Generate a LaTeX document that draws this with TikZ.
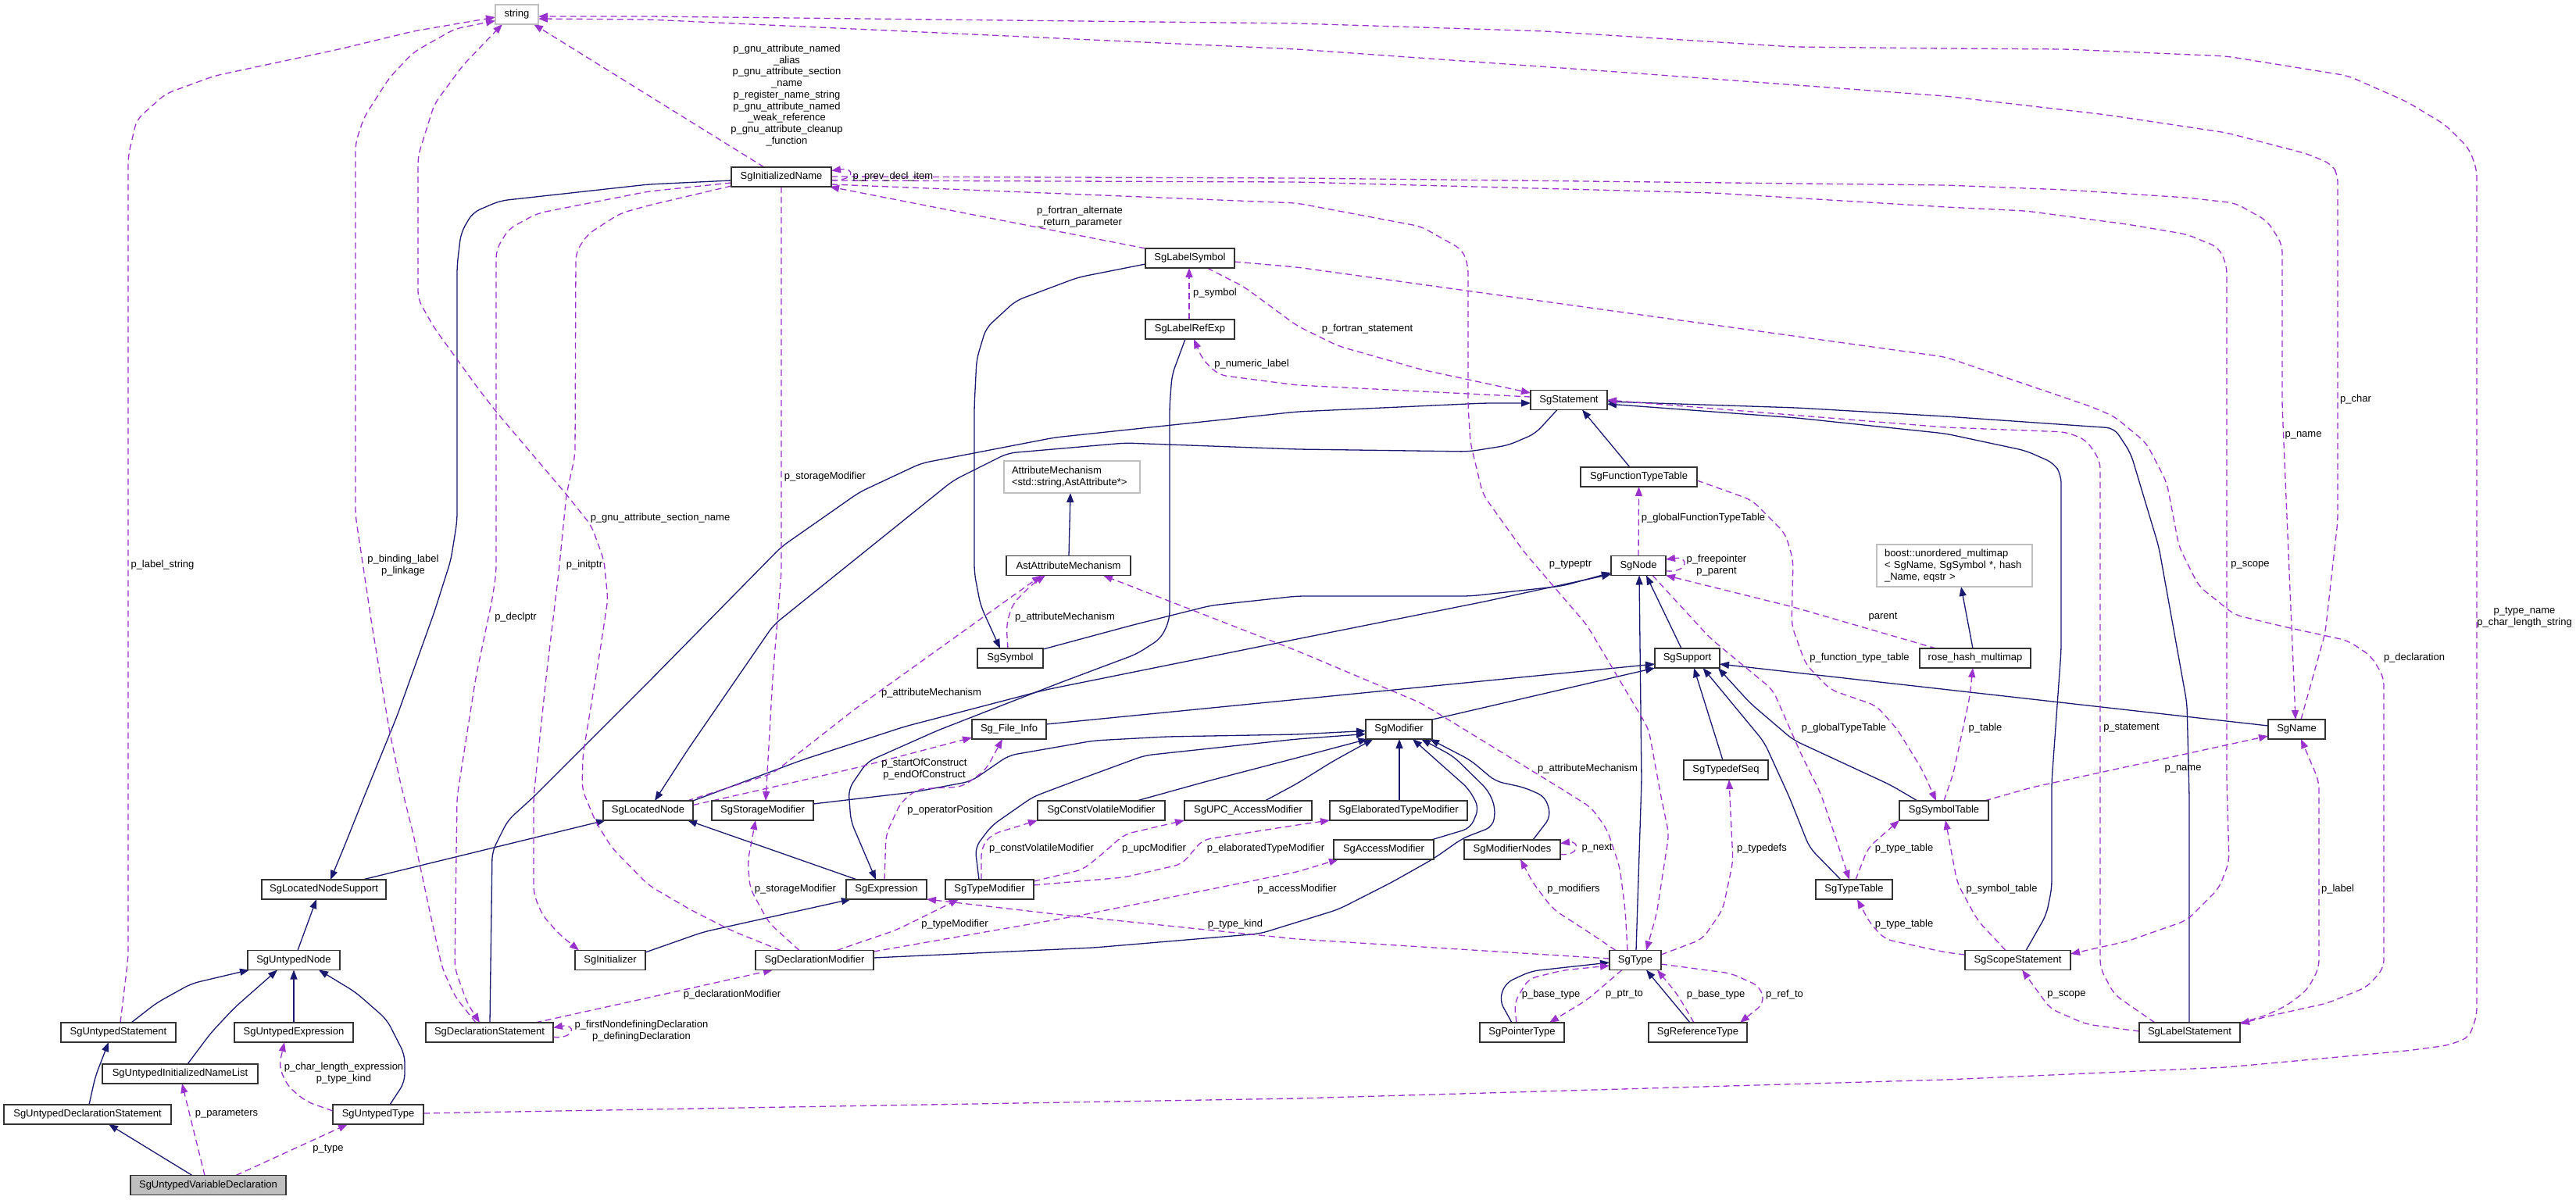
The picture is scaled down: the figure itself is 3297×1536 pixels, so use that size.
\documentclass[tikz,border=0pt]{standalone}
\usepackage{fontspec}
\setmainfont{Liberation Sans}
\usetikzlibrary{arrows.meta,calc,backgrounds}
\definecolor{inhc}{HTML}{191970}
\definecolor{depc}{HTML}{9A32CD}
\definecolor{extc}{HTML}{BFBFBF}
\begin{document}
\begin{tikzpicture}[x=1pt,y=-1pt,
 every node/.style={font=\fontsize{13}{14.75}\selectfont},
 cls/.style={draw=black!80,line width=1.3pt,fill=white,minimum height=25pt,inner sep=0pt},
 ext/.style={draw=extc,line width=1.3pt,fill=white,inner xsep=10pt,inner ysep=0pt,align=left},
 inh/.style={draw=inhc,line width=1.3pt,rounded corners=10pt,-{Triangle[length=12pt,width=9pt]}},
 dep/.style={draw=depc,line width=1.3pt,dash pattern=on 8pt off 5pt,rounded corners=10pt,-{Triangle[length=12pt,width=9pt]}},
 lbl/.style={inner sep=0pt,align=center}]
\useasboundingbox (0,0) rectangle (3297,1536);
% ---------------- nodes ----------------
\node[ext,minimum width=55pt,minimum height=25pt,inner xsep=0pt,align=center] (str) at (661.5,18.5) {string};
\node[cls,minimum width=128pt] (inm) at (1000,226.5) {SgInitializedName};
\node[cls,minimum width=114pt] (lsym) at (1523,330.5) {SgLabelSymbol};
\node[cls,minimum width=114pt] (lref) at (1523,421.5) {SgLabelRefExp};
\node[cls,minimum width=98pt] (stmt) at (2008,512) {SgStatement};
\node[ext,text width=154pt,minimum height=41pt] (attm) at (1372,610.5) {AttributeMechanism\\<std::string,AstAttribute*>};
\node[cls,minimum width=159pt] (astm) at (1367.5,724) {AstAttributeMechanism};
\node[cls,minimum width=84pt] (sym) at (1293,842.5) {SgSymbol};
\node[cls,minimum width=95pt] (finfo) at (1291.5,933.5) {Sg\_File\_Info};
\node[cls,minimum width=149pt] (ftt) at (2097.5,610.5) {SgFunctionTypeTable};
\node[cls,minimum width=70pt] (node) at (2097,724) {SgNode};
\node[ext,text width=179pt,minimum height=54pt] (boost) at (2501.5,724) {boost::unordered\_multimap\\< SgName, SgSymbol *, hash\\\_Name, eqstr >};
\node[cls,minimum width=83pt] (sup) at (2159.5,842.5) {SgSupport};
\node[cls,minimum width=142pt] (rhm) at (2528,842.5) {rose\_hash\_multimap};
\node[cls,minimum width=85pt] (mod) at (1790.5,933.5) {SgModifier};
\node[cls,minimum width=108pt] (tds) at (2209,985.5) {SgTypedefSeq};
\node[cls,minimum width=73pt] (name) at (2939.5,933.5) {SgName};
\node[cls,minimum width=115pt] (lnode) at (829.5,1037.5) {SgLocatedNode};
\node[cls,minimum width=130pt] (stor) at (976,1037.5) {SgStorageModifier};
\node[cls,minimum width=163pt] (cvm) at (1409.5,1037.5) {SgConstVolatileModifier};
\node[cls,minimum width=163pt] (upc) at (1597.5,1037.5) {SgUPC\_AccessModifier};
\node[cls,minimum width=176pt] (etm) at (1790,1037.5) {SgElaboratedTypeModifier};
\node[cls,minimum width=114pt] (symt) at (2488,1037.5) {SgSymbolTable};
\node[cls,minimum width=128pt] (accm) at (1771,1087.5) {SgAccessModifier};
\node[cls,minimum width=123pt] (mnodes) at (1935.5,1087.5) {SgModifierNodes};
\node[cls,minimum width=159pt] (lns) at (414.5,1138.5) {SgLocatedNodeSupport};
\node[cls,minimum width=103pt] (expr) at (1134.5,1138.5) {SgExpression};
\node[cls,minimum width=113pt] (tmod) at (1266.5,1138.5) {SgTypeModifier};
\node[cls,minimum width=98pt] (ttab) at (2373,1138.5) {SgTypeTable};
\node[cls,minimum width=118pt] (unode) at (376,1229) {SgUntypedNode};
\node[cls,minimum width=90pt] (init) at (781,1229) {SgInitializer};
\node[cls,minimum width=151pt] (dmod) at (1042.5,1229) {SgDeclarationModifier};
\node[cls,minimum width=66pt] (type) at (2093,1229) {SgType};
\node[cls,minimum width=135pt] (scope) at (2582.5,1229) {SgScopeStatement};
\node[cls,minimum width=147pt] (ustmt) at (151.5,1321.5) {SgUntypedStatement};
\node[cls,minimum width=152pt] (uexpr) at (376,1321.5) {SgUntypedExpression};
\node[cls,minimum width=163pt] (dstmt) at (626.5,1321.5) {SgDeclarationStatement};
\node[cls,minimum width=108pt] (ptr) at (1948,1321.5) {SgPointerType};
\node[cls,minimum width=126pt] (ref) at (2173,1321.5) {SgReferenceType};
\node[cls,minimum width=129pt] (lstmt) at (2802.5,1321.5) {SgLabelStatement};
\node[cls,minimum width=199pt] (uinl) at (230.5,1374.5) {SgUntypedInitializedNameList};
\node[cls,minimum width=214pt] (udecl) at (112,1426.5) {SgUntypedDeclarationStatement};
\node[cls,minimum width=116pt] (utype) at (484,1426.5) {SgUntypedType};
\node[cls,minimum width=199pt,fill=extc] (uvar) at (266.5,1517) {SgUntypedVariableDeclaration};
% ---------------- labels ----------------
\node[lbl] (lgnu) at (1007,122) {p\_gnu\_attribute\_named\\\_alias\\p\_gnu\_attribute\_section\\\_name\\p\_register\_name\_string\\p\_gnu\_attribute\_named\\\_weak\_reference\\p\_gnu\_attribute\_cleanup\\\_function};
\node[lbl] (l01) at (1143,226) {p\_prev\_decl\_item};
\node[lbl] (l02) at (1382,278) {p\_fortran\_alternate\\\_return\_parameter};
\node[lbl] (l03) at (1555,375) {p\_symbol};
\node[lbl] (l04) at (1602,466) {p\_numeric\_label};
\node[lbl] (l05) at (1750,421) {p\_fortran\_statement};
\node[lbl] (l06) at (3015,511) {p\_char};
\node[lbl] (l07) at (208,723) {p\_label\_string};
\node[lbl] (l08) at (516,723.5) {p\_binding\_label\\p\_linkage};
\node[lbl] (l09) at (660,790) {p\_declptr};
\node[lbl] (l10) at (748,723) {p\_initptr};
\node[lbl] (l11) at (845,663) {p\_gnu\_attribute\_section\_name};
\node[lbl] (l12) at (1056,610) {p\_storageModifier};
\node[lbl] (l13) at (1363,790) {p\_attributeMechanism};
\node[lbl] (l14) at (1192,887) {p\_attributeMechanism};
\node[lbl] (l15) at (1183,984.5) {p\_startOfConstruct\\p\_endOfConstruct};
\node[lbl] (l16) at (2180,663) {p\_globalFunctionTypeTable};
\node[lbl] (l17) at (2197,723.5) {p\_freepointer\\p\_parent};
\node[lbl] (l18) at (2010,723) {p\_typeptr};
\node[lbl] (l19) at (2410,790) {parent};
\node[lbl] (l20) at (2380,842) {p\_function\_type\_table};
\node[lbl] (l21) at (2360,932) {p\_globalTypeTable};
\node[lbl] (l22) at (2032,984) {p\_attributeMechanism};
\node[lbl] (l23) at (2948,557) {p\_name};
\node[lbl] (l24) at (2880,723) {p\_scope};
\node[lbl] (l25) at (3231,790) {p\_type\_name\\p\_char\_length\_string};
\node[lbl] (l26) at (3090,842) {p\_declaration};
\node[lbl] (l27) at (2541,932) {p\_table};
\node[lbl] (l28) at (2728,932) {p\_statement};
\node[lbl] (l29) at (2794,984) {p\_name};
\node[lbl] (l30) at (821,1319.5) {p\_firstNondefiningDeclaration\\p\_definingDeclaration};
\node[lbl] (l31) at (440,1373.5) {p\_char\_length\_expression\\p\_type\_kind};
\node[lbl] (l32) at (290,1426) {p\_parameters};
\node[lbl] (l33) at (420,1471) {p\_type};
\node[lbl] (l34) at (1216,1037) {p\_operatorPosition};
\node[lbl] (l35) at (1333,1086) {p\_constVolatileModifier};
\node[lbl] (l36) at (1477,1086) {p\_upcModifier};
\node[lbl] (l37) at (1620,1086) {p\_elaboratedTypeModifier};
\node[lbl] (l38) at (1018,1138) {p\_storageModifier};
\node[lbl] (l39) at (1660,1138) {p\_accessModifier};
\node[lbl] (l40) at (1222,1183) {p\_typeModifier};
\node[lbl] (l41) at (1581,1183) {p\_type\_kind};
\node[lbl] (l42) at (937,1273) {p\_declarationModifier};
\node[lbl] (l43) at (2044,1086) {p\_next};
\node[lbl] (l44) at (2255,1086) {p\_typedefs};
\node[lbl] (l45) at (2437,1086) {p\_type\_table};
\node[lbl] (l46) at (2014,1138) {p\_modifiers};
\node[lbl] (l47) at (2437,1183) {p\_type\_table};
\node[lbl] (l48) at (1985,1273) {p\_base\_type};
\node[lbl] (l49) at (2079,1273) {p\_ptr\_to};
\node[lbl] (l50) at (2196,1273) {p\_base\_type};
\node[lbl] (l51) at (2284,1273) {p\_ref\_to};
\node[lbl] (l52) at (2562,1138) {p\_symbol\_table};
\node[lbl] (l53) at (2992,1138) {p\_label};
\node[lbl] (l54) at (2645,1273) {p\_scope};
% ---------------- edges ----------------
\begin{scope}[on background layer]
\fill[white] (0,0) rectangle (3297,1536);
% inheritance
\draw[inh] ($(uvar)+(-20.5,-12.5)$) -- ($(udecl)+(27,12.5)$);
\draw[inh] ($(udecl)+(2,-12.5)$) -- (122,1378) -- ($(ustmt)+(-12.5,12.5)$);
\draw[inh] ($(ustmt)+(16.5,-12.5)$) -- (200,1284) -- (245,1259) -- ($(unode)+(-57,12.5)$);
\draw[inh] ($(uinl)+(9.5,-12.5)$) -- (270,1322) -- (300,1290) -- ($(unode)+(-21,12.5)$);
\draw[inh] ($(uexpr)+(0,-12.5)$) -- ($(unode)+(0,12.5)$);
\draw[inh] ($(utype)+(15,-12.5)$) -- (518,1385) -- (518,1350) -- (495,1305) -- (455,1270) -- ($(unode)+(32,12.5)$);
\draw[inh] ($(unode)+(5,-12.5)$) -- ($(lns)+(-9.5,12.5)$);
\draw[inh] ($(inm)+(-64,4.5)$) -- (830,236) -- (640,257) -- (605,272) -- (590,298) -- (585,340) -- (585,667) -- (577,717) -- (556,783) -- (508,917) -- (466,1020) -- (440,1085) -- ($(lns)+(8.5,-12.5)$);
\draw[inh] ($(lns)+(49.5,-12.5)$) -- ($(lnode)+(-54.5,12.5)$);
\draw[inh] ($(expr)+(-37.5,-12.5)$) -- ($(lnode)+(50.5,12.5)$);
\draw[inh] ($(stmt)+(-15,12.5)$) -- (1965,555) -- (1930,570) -- (1880,578) -- (1660,575) -- (1440,567) -- (1290,580) -- (1220,615) -- (1174,652) -- (990,800) -- (880,960) -- ($(lnode)+(8.5,-12.5)$);
\draw[inh] ($(dstmt)+(0.5,-12.5)$) -- (630,1090) -- (650,1050) -- (683,1020) -- (830,873) -- (1000,700) -- (1100,630) -- (1179,593) -- (1350,560) -- (1660,527) -- (1900,516) -- ($(stmt)+(-49,4)$);
\draw[inh] ($(lsym)+(-57,7.5)$) -- (1380,355) -- (1300,385) -- (1262,420) -- (1250,460) -- (1247,520) -- (1247,733) -- (1255,775) -- ($(sym)+(-13,-12.5)$);
\draw[inh] ($(lref)+(-6,12.5)$) -- (1500,480) -- (1497,520) -- (1497,793) -- (1486,817) -- (1455,837) -- (1359,873) -- (1200,935) -- (1110,975) -- (1086,1010) -- (1089,1051) -- ($(expr)+(-13.5,-12.5)$);
\draw[inh] ($(init)+(45,-10)$) -- (900,1193) -- ($(expr)+(-45.5,12.5)$);
\draw[inh] ($(sym)+(42,-11.5)$) -- (1450,800) -- (1550,775) -- (1660,763) -- (1882,763) -- (2000,750) -- ($(node)+(-35,9)$);
\draw[inh] ($(lnode)+(57.5,-12.5)$) -- (1026,973) -- (1158,930) -- (1338,883) -- (1660,818) -- (1900,770) -- ($(node)+(-35,11)$);
\draw[inh] ($(finfo)+(47.5,-6.5)$) -- ($(sup)+(-41.5,7.5)$);
\draw[inh] ($(mod)+(42.5,-12.5)$) -- ($(sup)+(-41.5,12.5)$);
\draw[inh] ($(stor)+(65,-8.5)$) -- (1169,1014) -- (1243,1000) -- (1291,967) -- (1400,948) -- (1492,943) -- (1660,940) -- ($(mod)+(-42.5,2)$);
\draw[inh] ($(tmod)+(-13.5,-12.5)$) -- (1248,1085) -- (1269,1057) -- (1322,1020) -- (1375,1000) -- (1465,967) -- (1660,946) -- ($(mod)+(-42.5,6)$);
\draw[inh] ($(cvm)+(45.5,-12.5)$) -- (1545,1000) -- (1660,970) -- ($(mod)+(-40,12.5)$);
\draw[inh] ($(upc)+(21.5,-12.5)$) -- (1660,1003) -- (1705,975) -- ($(mod)+(-33,12.5)$);
\draw[inh] ($(etm)+(1,-12.5)$) -- ($(mod)+(0.5,12.5)$);
\draw[inh] ($(accm)+(61,-12.5)$) -- (1882,1060) -- (1893,1034) -- (1880,1010) -- ($(mod)+(17.5,12.5)$);
\draw[inh] ($(dmod)+(75.5,-3)$) -- (1400,1213) -- (1613,1195) -- (1713,1164) -- (1780,1130) -- (1835,1099) -- (1872,1073) -- (1911,1058) -- (1914,1034) -- (1905,1012) -- (1860,968) -- ($(mod)+(28.5,12.5)$);
\draw[inh] ($(mnodes)+(26.5,-12.5)$) -- (1985,1045) -- (1978,1020) -- (1951,1008) -- (1914,1000) -- (1882,973) -- ($(mod)+(39.5,12.5)$);
\draw[inh] ($(sup)+(-7.5,-12.5)$) -- ($(node)+(10,12.5)$);
\draw[inh] ($(type)+(1,-12.5)$) -- (2101,1000) -- ($(node)+(1,12.5)$);
\draw[inh] ($(tds)+(-4,-12.5)$) -- ($(sup)+(8.5,12.5)$);
\draw[inh] ($(ttab)+(-17,-12.5)$) -- (2316,1085) -- (2290,1020) -- (2258,950) -- ($(sup)+(20,12.5)$);
\draw[inh] ($(symt)+(-34,-12.5)$) -- (2420,1005) -- (2295,947) -- (2240,900) -- ($(sup)+(39.5,12.5)$);
\draw[inh] ($(name)+(-36.5,-4.5)$) -- ($(sup)+(41.5,7.5)$);
\draw[inh] ($(ftt)+(-11.5,-12.5)$) -- ($(stmt)+(17,12.5)$);
\draw[inh] ($(scope)+(10.5,-12.5)$) -- (2619,1171) -- (2626,1137) -- (2626,1000) -- (2638,833) -- (2638,608) -- (2629,593) -- (2593,577) -- (2490,555) -- (2300,535) -- ($(stmt)+(49,5)$);
\draw[inh] ($(lstmt)+(-0.5,-12.5)$) -- (2802,1020) -- (2799,900) -- (2763,700) -- (2727,580) -- (2706,548) -- (2490,533) -- (2300,522) -- ($(stmt)+(49,2)$);
\draw[inh] ($(rhm)+(-3,-12.5)$) -- ($(boost)+(8.5,27)$);
\draw[inh] ($(astm)+(0.5,-12.5)$) -- ($(attm)+(-2,20.5)$);
\draw[inh] ($(ptr)+(-13,-12.5)$) -- (1919,1280) -- (1927,1258) -- (1960,1243) -- ($(type)+(-33,3)$);
\draw[inh] ($(ref)+(-10,-12.5)$) -- ($(type)+(14,12.5)$);
% usage
\draw[dep] ($(uvar)+(35.5,-12.5)$) -- ($(utype)+(-39,12.5)$);
\draw[dep] ($(uvar)+(-4.5,-12.5)$) -- ($(uinl)+(2.5,12.5)$);
\draw[dep] ($(utype)+(-58,-4.5)$) -- (392,1410) -- (368,1390) -- (357,1365) -- ($(uexpr)+(-12,12.5)$);
\draw[dep] ($(utype)+(58,-1.5)$) -- (830,1420) -- (1660,1406) -- (2490,1382) -- (2850,1366) -- (3080,1345) -- (3133,1338) -- (3160,1328) -- (3170,1300) -- (3170,217) -- (3160,190) -- (3130,160) -- (3080,130) -- (3005,97) -- (2850,72) -- (2644,63) -- (2490,62) -- (2295,60) -- (1978,40) -- (1660,30) -- (830,21) -- ($(str)+(27.5,2.5)$);
\draw[dep] ($(name)+(5.5,-12.5)$) -- (2976,810) -- (2992,667) -- (2992,223) -- (2984,210) -- (2953,197) -- (2850,170) -- (2696,147) -- (2490,123) -- (2083,93) -- (1660,63) -- (830,25) -- ($(str)+(27.5,5.5)$);
\draw[dep] ($(ustmt)+(2.5,-12.5)$) -- (164,1226) -- (164,200) -- (175,153) -- (212,120) -- (275,97) -- (434,63) -- (529,40) -- ($(str)+(-27.5,3.5)$);
\draw[dep] ($(dstmt)+(-17.5,-12.5)$) -- (582,1275) -- (566,1239) -- (551,1171) -- (529,1068) -- (512,1000) -- (498,933) -- (476,800) -- (460,693) -- (455,660) -- (455,183) -- (466,150) -- (498,100) -- (529,67) -- (582,37) -- ($(str)+(-27.5,8)$);
\draw[dep] ($(inm)+(-64,7.5)$) -- (830,245) -- (688,273) -- (651,293) -- (635,320) -- (635,733) -- (630,767) -- (609,867) -- (585,1020) -- (582,1239) -- (598,1284) -- ($(dstmt)+(-12.5,-12.5)$);
\draw[dep] ($(inm)+(-64,11.5)$) -- (830,263) -- (794,273) -- (752,300) -- (737,323) -- (736,583) -- (725,633) -- (715,733) -- (699,867) -- (683,1020) -- (683,1144) -- (694,1171) -- (715,1195) -- ($(init)+(-40,-12.5)$);
\draw[dep] ($(dmod)+(-43.5,-12.5)$) -- (936,1191) -- (883,1164) -- (830,1133) -- (783,1085) -- (762,1051) -- (745,1010) -- (746,967) -- (768,833) -- (778,767) -- (773,717) -- (757,673) -- (725,633) -- (635,527) -- (614,500) -- (556,420) -- (535,383) -- (535,200) -- (556,133) -- (593,83) -- ($(str)+(-18.5,12.5)$);
\draw[dep] ($(inm)+(-22,-12.5)$) -- ($(str)+(21.5,12.5)$);
\draw[dep] ($(inm)+(0,12.5)$) -- (1000,733) -- (989,867) -- ($(stor)+(4,-12.5)$);
\draw[dep] ($(lsym)+(-57,-12.5)$) -- ($(inm)+(62,12.5)$);
\draw[dep] ($(lsym)+(22,12.5)$) -- (1592,367) -- (1660,417) -- (1713,443) -- (1819,473) -- ($(stmt)+(-49,-9)$);
\draw[dep] ($(lref)+(-1,-12.5)$) -- ($(lsym)+(-1,12.5)$);
\draw[dep] ($(stmt)+(-49,-4)$) -- (1660,493) -- (1560,480) -- (1539,460) -- ($(lref)+(5,12.5)$);
\draw[dep] ($(inm)+(64,4)$) .. controls (1095,232) and (1095,214) .. ($(inm)+(64,-8)$);
\draw[dep] ($(inm)+(64,-0.5)$) -- (1660,228) -- (2490,237) -- (2644,243) -- (2799,253) -- (2861,260) -- (2902,283) -- (2921,313) -- (2921,520) -- ($(name)+(-1.5,-12.5)$);
\draw[dep] ($(inm)+(64,4.5)$) -- (1660,233) -- (2193,247) -- (2490,265) -- (2593,270) -- (2722,287) -- (2799,300) -- (2840,317) -- (2850,340) -- (2850,1000) -- (2853,1103) -- (2840,1137) -- (2799,1178) -- (2722,1205) -- ($(scope)+(67.5,-8)$);
\draw[dep] ($(inm)+(64,9.5)$) -- (1660,260) -- (1819,290) -- (1872,320) -- (1879,340) -- (1879,520) -- (1882,567) -- (1898,633) -- (1951,707) -- (2031,800) -- (2110,933) -- (2126,1020) -- (2136,1068) -- (2120,1171) -- ($(type)+(14,-12.5)$);
\draw[dep] ($(sym)+(-3,-12.5)$) -- (1288,800) -- (1296,773) -- (1322,747) -- ($(astm)+(-29.5,12.5)$);
\draw[dep] ($(lnode)+(50,-12.5)$) -- (989,990) -- (1095,907) -- (1254,793) -- ($(astm)+(-34.5,12.5)$);
\draw[dep] ($(type)+(-10,-12.5)$) -- (2080,1164) -- (2073,1110) -- (2057,1062) -- (2037,1034) -- (1999,1010) -- (1819,900) -- (1660,833) -- ($(astm)+(44.5,12.5)$);
\draw[dep] ($(lnode)+(57.5,-7)$) -- (1000,1005) -- (1095,983) -- ($(finfo)+(-47.5,10.5)$);
\draw[dep] ($(expr)+(-2.5,-12.5)$) -- (1134,1068) -- (1153,1027) -- (1174,1010) -- (1232,1007) -- (1262,985) -- ($(finfo)+(-8.5,12.5)$);
\draw[dep] ($(node)+(0,-12.5)$) -- ($(ftt)+(0,12.5)$);
\draw[dep] ($(node)+(35,7)$) .. controls (2162,733) and (2162,712) .. ($(node)+(35,-8)$);
\draw[dep] ($(rhm)+(-50,-12.5)$) -- (2295,777) -- ($(node)+(35,12.5)$);
\draw[dep] ($(ftt)+(74.5,4.5)$) -- (2242,640) -- (2285,683) -- (2295,717) -- (2293,800) -- (2311,850) -- (2343,883) -- (2401,903) -- (2428,933) -- (2460,985) -- ($(symt)+(-10,-12.5)$);
\draw[dep] ($(node)+(18,12.5)$) -- (2189,817) -- (2269,883) -- (2306,967) -- (2330,1015) -- (2348,1068) -- ($(ttab)+(-6,-12.5)$);
\draw[dep] ($(symt)+(0,-12.5)$) -- (2500,990) -- (2521,892) -- ($(rhm)+(-3,12.5)$);
\draw[dep] ($(symt)+(52,-12.5)$) -- (2600,1008) -- ($(name)+(-36.5,8.5)$);
\draw[dep] ($(lstmt)+(-44.5,-12.5)$) -- (2706,1273) -- (2688,1239) -- (2688,590) -- (2670,563) -- (2644,553) -- (2490,547) -- ($(stmt)+(49,0)$);
\draw[dep] ($(scope)+(-15.5,-12.5)$) -- (2531,1178) -- (2505,1130) -- ($(symt)+(2,12.5)$);
\draw[dep] ($(scope)+(-67.5,-7)$) -- (2490,1219) -- (2412,1202) -- (2393,1181) -- ($(ttab)+(4,12.5)$);
\draw[dep] ($(lstmt)+(-64.5,-1.5)$) -- (2670,1311) -- (2624,1291) -- ($(scope)+(5.5,12.5)$);
\draw[dep] ($(lstmt)+(64.5,-12.5)$) -- (2897,1301) -- (2927,1287) -- (2953,1267) -- (2968,1239) -- (2968,1000) -- ($(name)+(5.5,12.5)$);
\draw[dep] ($(lsym)+(57,4.5)$) -- (1660,342) -- (2490,457) -- (2675,520) -- (2706,533) -- (2747,567) -- (2773,617) -- (2789,700) -- (2814,750) -- (2860,787) -- (2927,803) -- (3005,820) -- (3035,840) -- (3051,867) -- (3051,1239) -- (3030,1263) -- (2979,1284) -- (2902,1301) -- ($(lstmt)+(64.5,-11)$);
\draw[dep] ($(dmod)+(-19.5,-12.5)$) -- (984,1181) -- (960,1137) -- (957,1103) -- ($(stor)+(-9,12.5)$);
\draw[dep] ($(dmod)+(28.5,-12.5)$) -- (1148,1190) -- ($(tmod)+(-39.5,12.5)$);
\draw[dep] ($(dmod)+(75.5,-11)$) -- (1386,1171) -- (1660,1116) -- ($(accm)+(-58,12.5)$);
\draw[dep] ($(dstmt)+(58.5,-12.5)$) -- (830,1277) -- ($(dmod)+(-53.5,12.5)$);
\draw[dep] ($(dstmt)+(81.5,6)$) .. controls (737,1330) and (737,1310) .. ($(dstmt)+(81.5,-6)$);
\draw[dep] ($(type)+(-33,-2)$) -- (1660,1202) -- (1359,1171) -- ($(expr)+(51.5,12.5)$);
\draw[dep] ($(tmod)+(-10.5,-12.5)$) -- (1256,1085) -- (1269,1068) -- ($(cvm)+(-81.5,12.5)$);
\draw[dep] ($(tmod)+(56.5,-10.5)$) -- (1386,1113) -- (1412,1092) -- (1439,1068) -- ($(upc)+(-81.5,12.5)$);
\draw[dep] ($(tmod)+(56.5,-5.5)$) -- (1439,1123) -- (1513,1106) -- (1539,1075) -- (1660,1056) -- ($(etm)+(-88,12.5)$);
\draw[dep] ($(type)+(-25,-12.5)$) -- (2030,1191) -- (1988,1164) -- (1962,1130) -- ($(mnodes)+(10.5,12.5)$);
\draw[dep] ($(mnodes)+(61.5,6)$) .. controls (2022,1096) and (2022,1076) .. ($(mnodes)+(61.5,-8)$);
\draw[dep] ($(type)+(33,-7)$) -- (2179,1202) -- (2205,1164) -- (2218,1103) -- ($(tds)+(4,12.5)$);
\draw[dep] ($(type)+(-17,12.5)$) -- (2031,1280) -- ($(ptr)+(35,-12.5)$);
\draw[dep] ($(ptr)+(-7,-12.5)$) -- (1938,1284) -- (1956,1253) -- (2000,1242) -- ($(type)+(-33,7)$);
\draw[dep] ($(ref)+(-5,-12.5)$) -- (2147,1273) -- ($(type)+(28,12.5)$);
\draw[dep] ($(type)+(33,5)$) -- (2216,1246) -- (2253,1263) -- (2258,1284) -- ($(ref)+(54,-12.5)$);
\draw[dep] ($(ttab)+(2,-12.5)$) -- (2391,1085) -- ($(symt)+(-57,12.5)$);
\end{scope}
\end{tikzpicture}
\end{document}
